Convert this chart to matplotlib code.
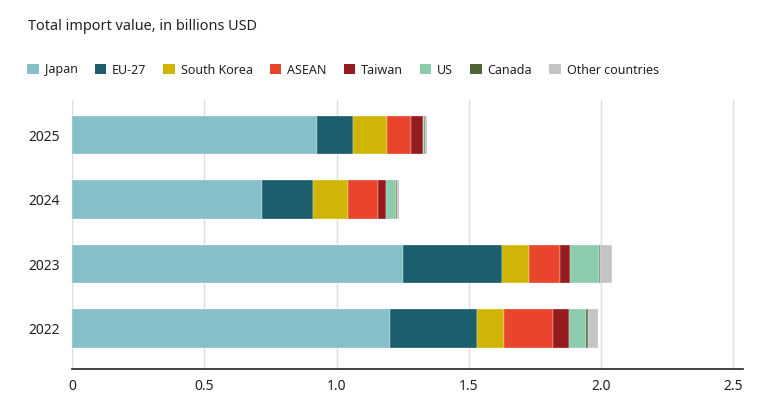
import matplotlib.pyplot as plt
from matplotlib.patches import Patch

plt.rcParams['font.family'] = ['Noto Sans', 'DejaVu Sans']

years = ['2022', '2023', '2024', '2025']
regions = ['Japan', 'EU-27', 'South Korea', 'ASEAN', 'Taiwan', 'US', 'Canada', 'Other countries']
colors = ['#86bfc8', '#1b5f6e', '#d1b506', '#e8452c', '#961b1e', '#8ccbac', '#4f6535', '#c4c4c4']

# billions USD, order matches years
japan = [1.201, 1.250, 0.717, 0.926]
eu27 = [0.330, 0.377, 0.193, 0.136]
south_korea = [0.101, 0.099, 0.133, 0.128]
asean = [0.185, 0.120, 0.113, 0.090]
taiwan = [0.061, 0.035, 0.032, 0.046]
us = [0.066, 0.110, 0.035, 0.006]
canada = [0.005, 0.005, 0.005, 0.003]
other = [0.040, 0.046, 0.007, 0.008]
series = [japan, eu27, south_korea, asean, taiwan, us, canada, other]

fig = plt.figure(figsize=(7.8, 4), dpi=100)
ax = fig.add_axes([0.0925, 0.0775, 0.8595, 0.6725])

ypos = range(len(years))
left = [0.0] * len(years)
for vals, c in zip(series, colors):
    ax.barh(ypos, vals, left=left, height=0.59, color=c, edgecolor='white', linewidth=0.2, zorder=3)
    left = [l + v for l, v in zip(left, vals)]

ax.set_xlim(0, 2.535)
ax.set_ylim(-0.628, 3.543)
ax.set_xticks([0, 0.5, 1.0, 1.5, 2.0, 2.5])
ax.set_xticklabels(['0', '0.5', '1.0', '1.5', '2.0', '2.5'])
ax.set_yticks(list(ypos))
ax.set_yticklabels(years)
ax.tick_params(length=0, labelsize=10, colors='#222222')
ax.tick_params(axis='x', pad=7)
ax.tick_params(axis='y', pad=9)
ax.grid(axis='x', color='#dddddd', linewidth=1, zorder=0)
for s in ['top', 'right', 'left']:
    ax.spines[s].set_visible(False)
ax.spines['bottom'].set_color('#222222')
ax.spines['bottom'].set_linewidth(1.2)
ax.spines['bottom'].set_zorder(4)

fig.text(28 / 780, 1 - 27 / 400, 'Total import value, in billions USD', fontsize=10.4, va='center', color='#222222')

handles = [Patch(facecolor=c, edgecolor='none') for c in colors]
fig.legend(handles, regions, loc='center left', bbox_to_anchor=(16 / 780, 1 - 70 / 400), ncol=8,
           frameon=False, fontsize=9, handlelength=0.9, handleheight=0.9, handletextpad=0.5,
           columnspacing=1.35, labelcolor='#222222')

fig.savefig('out.png', dpi=100)
